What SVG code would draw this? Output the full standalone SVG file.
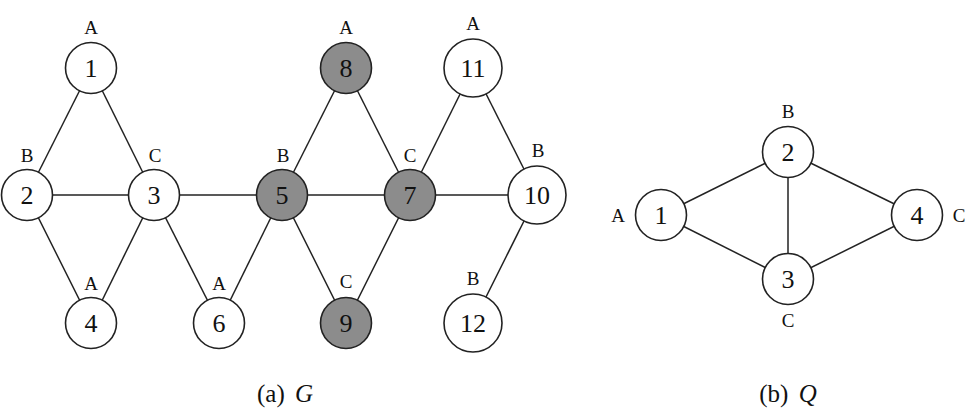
<svg xmlns="http://www.w3.org/2000/svg" width="976" height="411" viewBox="0 0 976 411">
<style>
.e{stroke:#222;stroke-width:1.5;fill:none}
.n{fill:#fff;stroke:#222;stroke-width:1.6}
.g{fill:#8c8c8c;stroke:#222;stroke-width:1.6}
.t{font-family:"Liberation Serif","DejaVu Serif",serif;font-size:26px;fill:#111;text-anchor:middle;dominant-baseline:central}
.l{font-family:"Liberation Serif","DejaVu Serif",serif;font-size:19px;fill:#111;text-anchor:middle;dominant-baseline:central}
.c{font-family:"Liberation Serif","DejaVu Serif",serif;font-size:25px;fill:#111;text-anchor:middle;dominant-baseline:central;word-spacing:4px}
</style>
<rect width="976" height="411" fill="#fff"/>
<g id="connectors">
<line class="e" x1="91" y1="68" x2="27" y2="195"/>
<line class="e" x1="91" y1="68" x2="154" y2="195"/>
<line class="e" x1="27" y1="195" x2="154" y2="195"/>
<line class="e" x1="27" y1="195" x2="91" y2="323"/>
<line class="e" x1="154" y1="195" x2="91" y2="323"/>
<line class="e" x1="154" y1="195" x2="282" y2="195"/>
<line class="e" x1="154" y1="195" x2="219" y2="323"/>
<line class="e" x1="282" y1="195" x2="219" y2="323"/>
<line class="e" x1="282" y1="195" x2="346" y2="68"/>
<line class="e" x1="282" y1="195" x2="410" y2="195"/>
<line class="e" x1="282" y1="195" x2="346" y2="323"/>
<line class="e" x1="346" y1="68" x2="410" y2="195"/>
<line class="e" x1="410" y1="195" x2="346" y2="323"/>
<line class="e" x1="410" y1="195" x2="473" y2="68"/>
<line class="e" x1="410" y1="195" x2="537" y2="195"/>
<line class="e" x1="473" y1="68" x2="537" y2="195"/>
<line class="e" x1="537" y1="195" x2="473" y2="323"/>
<line class="e" x1="661" y1="215" x2="788" y2="152"/>
<line class="e" x1="661" y1="215" x2="788" y2="279"/>
<line class="e" x1="788" y1="152" x2="788" y2="279"/>
<line class="e" x1="788" y1="152" x2="917" y2="215"/>
<line class="e" x1="788" y1="279" x2="917" y2="215"/>
</g>
<g id="G1"><circle class="n" cx="91" cy="68" r="25.5"/><text class="t" x="91" y="68">1</text><text class="l" x="91" y="27">A</text></g>
<g id="G2"><circle class="n" cx="27" cy="195" r="25.5"/><text class="t" x="27" y="195">2</text><text class="l" x="27" y="155">B</text></g>
<g id="G3"><circle class="n" cx="154" cy="195" r="25.5"/><text class="t" x="154" y="195">3</text><text class="l" x="155" y="155">C</text></g>
<g id="G4"><circle class="n" cx="91" cy="323" r="25.5"/><text class="t" x="91" y="323">4</text><text class="l" x="91" y="283">A</text></g>
<g id="G5"><circle class="g" cx="282" cy="195" r="25.5"/><text class="t" x="282" y="195">5</text><text class="l" x="283" y="155">B</text></g>
<g id="G6"><circle class="n" cx="219" cy="323" r="25.5"/><text class="t" x="219" y="323">6</text><text class="l" x="219" y="283">A</text></g>
<g id="G7"><circle class="g" cx="410" cy="195" r="25.5"/><text class="t" x="410" y="195">7</text><text class="l" x="410" y="155">C</text></g>
<g id="G8"><circle class="g" cx="346" cy="68" r="25.5"/><text class="t" x="346" y="68">8</text><text class="l" x="346" y="27">A</text></g>
<g id="G9"><circle class="g" cx="346" cy="323" r="25.5"/><text class="t" x="346" y="323">9</text><text class="l" x="346" y="281">C</text></g>
<g id="G10"><circle class="n" cx="537" cy="195" r="29"/><text class="t" x="537" y="195">10</text><text class="l" x="538" y="150">B</text></g>
<g id="G11"><circle class="n" cx="473" cy="68" r="29"/><text class="t" x="473" y="68">11</text><text class="l" x="473" y="23">A</text></g>
<g id="G12"><circle class="n" cx="473" cy="323" r="29"/><text class="t" x="473" y="323">12</text><text class="l" x="473" y="278">B</text></g>
<g id="Q1"><circle class="n" cx="661" cy="215" r="25.5"/><text class="t" x="661" y="215">1</text><text class="l" x="618" y="215">A</text></g>
<g id="Q2"><circle class="n" cx="788" cy="152" r="25.5"/><text class="t" x="788" y="152">2</text><text class="l" x="788" y="111">B</text></g>
<g id="Q3"><circle class="n" cx="788" cy="279" r="25.5"/><text class="t" x="788" y="279">3</text><text class="l" x="788" y="320">C</text></g>
<g id="Q4"><circle class="n" cx="917" cy="215" r="25.5"/><text class="t" x="917" y="215">4</text><text class="l" x="959" y="215">C</text></g>
<g id="captions">
<text class="c" x="285" y="393">(a) <tspan font-style="italic">G</tspan></text>
<text class="c" x="788" y="393">(b) <tspan font-style="italic">Q</tspan></text>
</g>
</svg>
